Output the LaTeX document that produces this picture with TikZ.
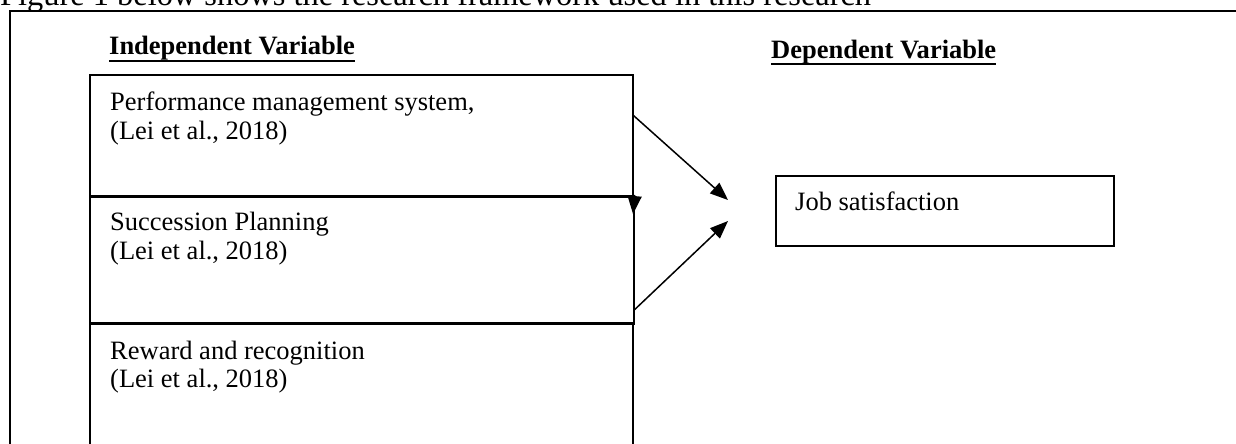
\documentclass[tikz,border=0pt]{standalone}
\usepackage{fontspec}
\setmainfont{Liberation Serif}
\usetikzlibrary{arrows.meta,calc}
\tikzset{
  txt/.style={inner sep=0pt, anchor=base west, font=\fontsize{26.5}{29}\selectfont},
  head/.style={inner sep=0pt, anchor=base west, font=\fontsize{26.5}{29}\selectfont\bfseries},
  box/.style={draw, line width=1.7pt, inner sep=0pt, anchor=north west},
  conn/.style={line width=1.5pt, -{Triangle[length=18pt,width=14pt]}},
  frame/.style={draw, line width=2.2pt}
}
\begin{document}
\begin{tikzpicture}[x=1pt,y=-1pt]
\clip (0,0) rectangle (1236,444);
% title line
\node[inner sep=0pt, anchor=base west, font=\fontsize{32.4}{36}\selectfont] (title) at (0,6) {Figure 1 below shows the research framework used in this research};
% outer frame
\draw[frame] (10,11) rectangle (1260,470);
% headings
\node[head] (ivh) at (109,55) {Independent Variable};
\draw[line width=2.4pt] ($(ivh.base west)+(0,6)$) -- ($(ivh.base east)+(0,6)$);
\node[head] (dvh) at (771,59) {Dependent Variable};
\draw[line width=2.4pt] ($(dvh.base west)+(0,5)$) -- ($(dvh.base east)+(0,5)$);
% independent boxes
\node[box, minimum width=543pt, minimum height=121pt] (pms) at (89,74) {};
\node[box, minimum width=544pt, minimum height=127pt] (sp) at (89,195) {};
\node[box, minimum width=543pt, minimum height=150pt] (rr) at (89,322) {};
\draw[line width=3pt] (pms.south west) -- (pms.south east);
\draw[line width=3pt] (sp.south west) -- (sp.south east);
% texts
\node[txt] (t1a) at (110,110) {Performance management system,};
\node[txt] (t1b) at (110,139) {(Lei et al., 2018)};
\node[txt] (t2a) at (110,230) {Succession Planning};
\node[txt] (t2b) at (110,259) {(Lei et al., 2018)};
\node[txt] (t3a) at (110,359) {Reward and recognition};
\node[txt] (t3b) at (110,387) {(Lei et al., 2018)};
% dependent box
\node[box, line width=2pt, minimum width=338pt, minimum height=70pt] (js) at (775,175) {};
\node[txt] (jst) at (795,210) {Job satisfaction};
% connectors
\coordinate (a1) at ($(pms.north east)!0.34!(pms.south east)$);
\coordinate (a2) at ($(sp.north east)!0.89!(sp.south east)$);
\coordinate (tip1) at (728,200);
\coordinate (tip2) at (728,221);
\coordinate (tip3) at (633,214);
\draw[conn] (a1) -- (tip1);
\draw[conn] (a2) -- (tip2);
\draw[conn] (sp.north east) -- (tip3);
\end{tikzpicture}
\end{document}
